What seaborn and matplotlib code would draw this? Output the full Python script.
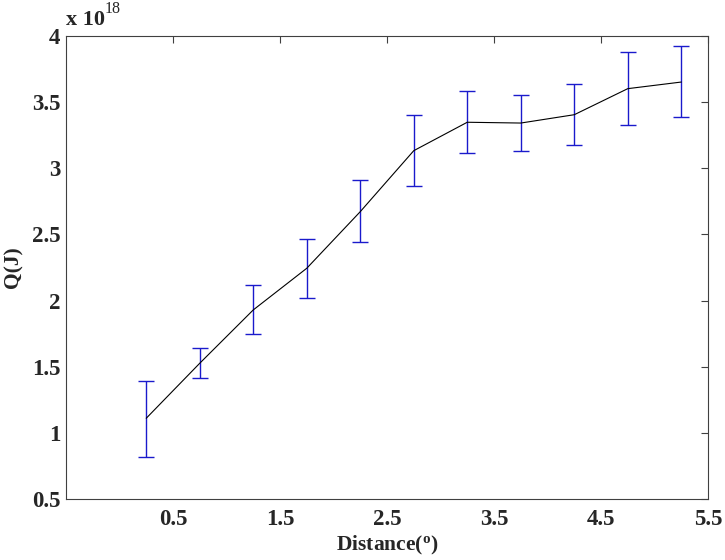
import numpy as np
import matplotlib
matplotlib.use("Agg")
import matplotlib.pyplot as plt
import seaborn as sns
import pandas as pd

distance = [0.25, 0.75, 1.25, 1.75, 2.25, 2.75, 3.25, 3.75, 4.25, 4.75, 5.25]
q_mean = [1.11, 1.526, 1.929, 2.244, 2.672, 3.133, 3.348, 3.342, 3.405, 3.602, 3.652]
q_low = [0.82, 1.417, 1.75, 2.022, 2.44, 2.864, 3.113, 3.13, 3.174, 3.325, 3.385]
q_high = [1.39, 1.642, 2.118, 2.463, 2.912, 3.40, 3.584, 3.554, 3.635, 3.877, 3.924]
x_ticks = [0.5, 1.5, 2.5, 3.5, 4.5, 5.5]
y_ticks = [0.5, 1, 1.5, 2, 2.5, 3, 3.5, 4]

sns.set_style("white")
plt.rcParams['font.family'] = ['Liberation Serif', 'DejaVu Serif']
plt.rcParams['mathtext.fontset'] = 'custom'
plt.rcParams['mathtext.rm'] = 'Liberation Serif:bold'
plt.rcParams['mathtext.bf'] = 'Liberation Serif:bold'
plt.rcParams['mathtext.it'] = 'Liberation Serif:bold'

df = pd.DataFrame({"x": distance, "y": q_mean})
yerr = np.array([np.array(q_mean) - np.array(q_low), np.array(q_high) - np.array(q_mean)])

fig = plt.figure(figsize=(7.25, 5.6), dpi=100)
ax = fig.add_axes([0.091, 0.109, 0.8856, 0.8267])

ax.errorbar(distance, q_mean, yerr=yerr, fmt='none', ecolor='#1a1acc',
            elinewidth=1.0, capsize=5.5, capthick=1.0, zorder=2)
sns.lineplot(data=df, x="x", y="y", color='black', linewidth=0.8, ax=ax, zorder=3)

ax.set_xlim(-0.5, 5.5)
ax.set_ylim(0.5, 4)
ax.set_xticks(x_ticks)
ax.set_xticklabels([f"{v:g}" for v in x_ticks])
ax.set_yticks(y_ticks)
ax.set_yticklabels([f"{v:g}" for v in y_ticks])
ax.tick_params(direction='in', length=5, width=0.8, color='#404040',
               top=True, right=True, labelsize=16.5)
ax.tick_params(axis='x', pad=7)
ax.tick_params(axis='y', pad=4)
for lab in ax.get_xticklabels() + ax.get_yticklabels():
    lab.set_fontweight('bold')
for sp in ax.spines.values():
    sp.set_color('#404040')
    sp.set_linewidth(0.8)

ax.set_xlabel(r'Distance($^{\mathrm{o}}$)', fontsize=15.5, fontweight='bold', labelpad=3)
ax.set_ylabel('Q(J)', fontsize=15.5, fontweight='bold', labelpad=6)
ax.text(0.0, 1.012, 'x 10', transform=ax.transAxes, fontsize=16,
        fontweight='bold', ha='left', va='bottom')
ax.text(0.060, 1.040, '18', transform=ax.transAxes, fontsize=11.5,
        ha='left', va='bottom')

fig.savefig('out.png', dpi=100)
